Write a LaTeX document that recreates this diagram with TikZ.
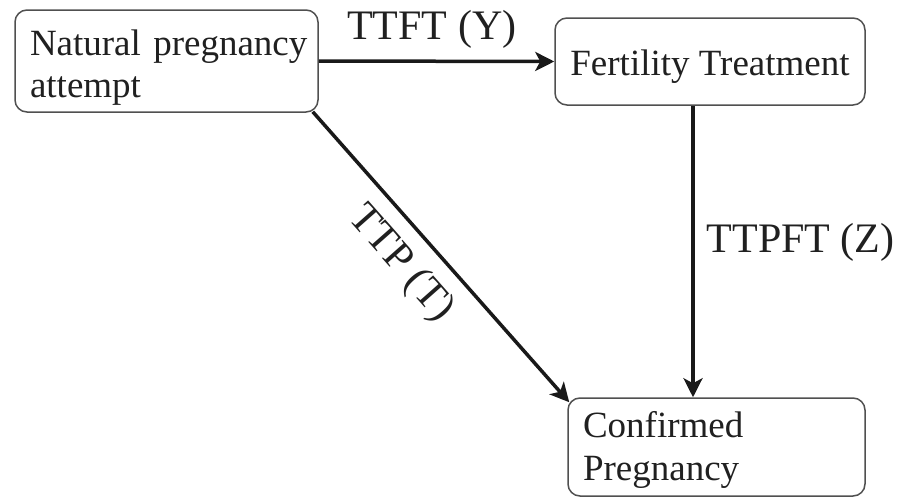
\documentclass[tikz,border=0pt]{standalone}
\usepackage{fontspec}
\setmainfont{Liberation Serif}
\usetikzlibrary{arrows.meta,calc}
\definecolor{boxline}{HTML}{505050}
\definecolor{txt}{HTML}{202020}
\tikzset{
  box/.style={draw=boxline, line width=1.5pt, rounded corners=12pt, fill=white,
    inner sep=0pt, align=left, text=txt,
    font=\fontsize{37}{42}\selectfont},
  conn/.style={line width=3.5pt, draw=black!90, -{Stealth[length=19pt,width=19pt,inset=5pt]}},
  lab/.style={text=txt, font=\fontsize{42}{48}\selectfont}
}
\begin{document}
\begin{tikzpicture}[x=1pt,y=-1pt]
\useasboundingbox (0,0) rectangle (902,498);
\node[box, minimum width=303pt, minimum height=102pt, text width=273pt] (n1) at (166.5,61) {\rule{0pt}{38pt}\mbox{Natural pregnancy}\\attempt};
\node[box, minimum width=310pt, minimum height=87pt, align=center] (n2) at (710,61.5) {\rule{0pt}{35pt}Fertility Treatment};
\node[box, minimum width=297pt, minimum height=98pt, text width=267pt, font=\fontsize{37}{43}\selectfont] (n3) at (716.5,447) {\rule{0pt}{31pt}\mbox{Confirmed}\\\mbox{Pregnancy}};
\draw[conn] (n1.east) -- (n2.west) node[lab, above, pos=0.48, inner sep=11pt] (l1) {TTFT (Y)};
\draw[conn] ([xshift=-17pt]n2.south) -- ([xshift=-23.5pt]n3.north) node[lab, right, pos=0.47, inner sep=12pt] (l3) {TTPFT (Z)};
\draw[conn] ([shift={(-6pt,1pt)}]n1.south east) -- ([shift={(2pt,-5pt)}]n3.north west) node[lab, below, sloped, pos=0.445, inner sep=14pt] (l2) {TTP (T)};
\end{tikzpicture}
\end{document}
